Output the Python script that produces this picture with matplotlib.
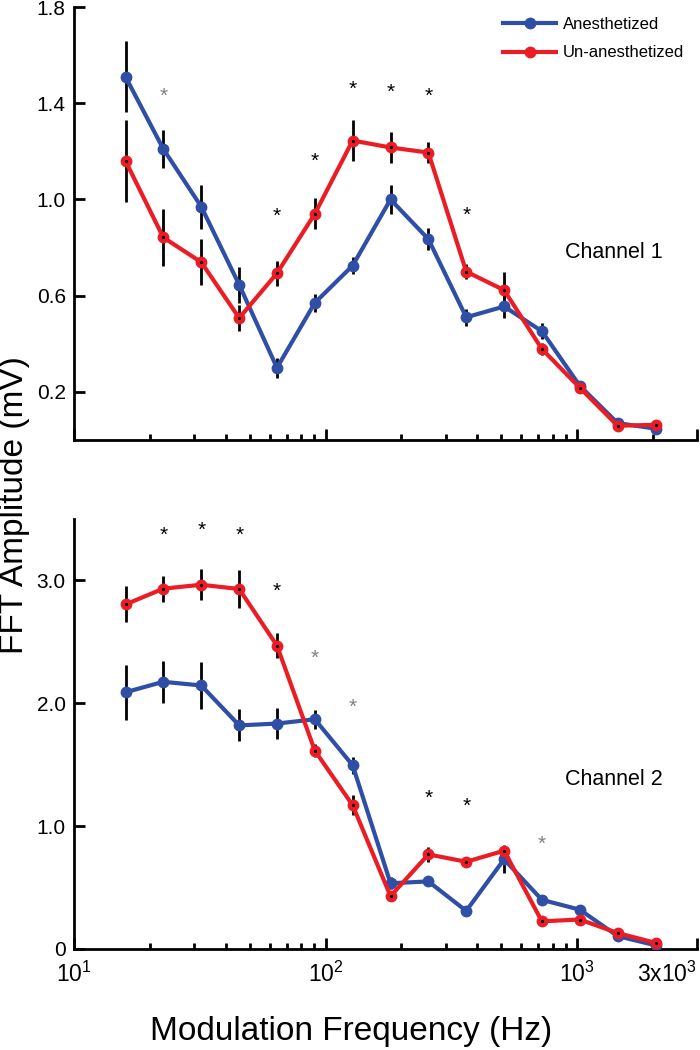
import matplotlib
matplotlib.use('Agg')
import matplotlib.pyplot as plt
import numpy as np

plt.rcParams['font.family'] = ['Liberation Sans', 'DejaVu Sans']
plt.rcParams['mathtext.fontset'] = 'custom'
plt.rcParams['mathtext.rm'] = 'Liberation Sans'
plt.rcParams['mathtext.it'] = 'Liberation Sans:italic'

# modulation frequencies (Hz)
freqs = [16, 22.6, 32, 45.3, 64, 90.5, 128, 181, 256, 362, 512, 724, 1024, 1448, 2048]

# channel 1
ch1_anes = [1.51, 1.21, 0.97, 0.645, 0.30, 0.57, 0.725, 1.00, 0.835, 0.51, 0.555, 0.452, 0.225, 0.07, 0.047]
ch1_anes_err = [0.147, 0.079, 0.092, 0.075, 0.041, 0.037, 0.035, 0.06, 0.045, 0.035, 0.05, 0.033, 0.02, 0.01, 0.01]
ch1_unan = [1.16, 0.842, 0.739, 0.507, 0.693, 0.94, 1.245, 1.216, 1.195, 0.70, 0.623, 0.378, 0.217, 0.059, 0.063]
ch1_unan_err = [0.17, 0.118, 0.095, 0.054, 0.052, 0.064, 0.085, 0.066, 0.045, 0.03, 0.076, 0.025, 0.015, 0.01, 0.01]
ch1_star_f = [22.6, 64, 90.5, 128, 181, 256, 362]
ch1_star_y = [1.43, 0.93, 1.157, 1.456, 1.447, 1.427, 0.934]
ch1_star_c = ['gray', 'k', 'k', 'k', 'k', 'k', 'k']

# channel 2
ch2_anes = [2.09, 2.175, 2.145, 1.82, 1.835, 1.87, 1.495, 0.535, 0.55, 0.31, 0.73, 0.40, 0.32, 0.105, 0.03]
ch2_anes_err = [0.223, 0.17, 0.19, 0.13, 0.125, 0.077, 0.07, 0.05, 0.04, 0.03, 0.11, 0.04, 0.03, 0.02, 0.01]
ch2_unan = [2.805, 2.933, 2.965, 2.93, 2.47, 1.615, 1.17, 0.43, 0.77, 0.71, 0.80, 0.225, 0.24, 0.13, 0.05]
ch2_unan_err = [0.146, 0.105, 0.127, 0.155, 0.10, 0.05, 0.08, 0.04, 0.06, 0.03, 0.05, 0.04, 0.03, 0.02, 0.01]
ch2_star_f = [22.6, 32, 45.3, 64, 90.5, 128, 256, 362, 724]
ch2_star_y = [3.37, 3.41, 3.37, 2.91, 2.37, 1.97, 1.23, 1.16, 0.85]
ch2_star_c = ['k', 'k', 'k', 'k', 'gray', 'gray', 'k', 'k', 'gray']

blue = '#2f4ea6'
red = '#ec1c24'

fig = plt.figure(figsize=(7, 10.5), dpi=100)
ax1 = fig.add_axes([0.106, 0.581, 0.89, 0.4123])
ax2 = fig.add_axes([0.106, 0.0962, 0.89, 0.4095])


def draw(ax, a, ae, u, ue, sf, sy, sc, ylim, yticks, ylabels, label, ly):
    ax.errorbar(freqs, a, yerr=ae, fmt='none', ecolor='k', elinewidth=2, capsize=0, zorder=3)
    ax.errorbar(freqs, u, yerr=ue, fmt='none', ecolor='k', elinewidth=2, capsize=0, zorder=3)
    ax.plot(freqs, a, '-o', color=blue, lw=3, ms=7.5, zorder=4, label='Anesthetized')
    ax.plot(freqs, u, '-o', color=red, lw=3, ms=7.5, zorder=5, label='Un-anesthetized')
    ax.plot(freqs, u, 'o', color='k', ms=1.3, zorder=6)
    for f, y, c in zip(sf, sy, sc):
        ax.text(f, y, '*', color=c, fontsize=15, ha='center', va='center')
    ax.set_xscale('log')
    ax.set_xlim(10, 3000)
    ax.set_ylim(*ylim)
    ax.set_yticks(yticks)
    ax.set_yticklabels(ylabels)
    ax.set_xticks([10, 100, 1000, 3000])
    ax.set_xticks([20, 30, 40, 50, 60, 70, 80, 90, 200, 300, 400, 500, 600, 700, 800, 900, 2000], minor=True)
    ax.xaxis.set_minor_formatter(matplotlib.ticker.NullFormatter())
    for s in ['top', 'right']:
        ax.spines[s].set_visible(False)
    for s in ['left', 'bottom']:
        ax.spines[s].set_linewidth(2)
    ax.tick_params(which='major', direction='in', length=8, width=2, labelsize=15, pad=6)
    ax.tick_params(which='minor', direction='in', length=4, width=2)
    ax.tick_params(axis='y', which='minor', length=0)
    ax.text(0.788, ly, label, transform=ax.transAxes, fontsize=15.5, va='center')


draw(ax1, ch1_anes, ch1_anes_err, ch1_unan, ch1_unan_err, ch1_star_f, ch1_star_y, ch1_star_c,
     (0, 1.8), [0.2, 0.6, 1.0, 1.4, 1.8], ['0.2', '0.6', '1.0', '1.4', '1.8'], 'Channel 1', 0.434)
ax1.set_xticklabels([])

draw(ax2, ch2_anes, ch2_anes_err, ch2_unan, ch2_unan_err, ch2_star_f, ch2_star_y, ch2_star_c,
     (0, 3.5), [0, 1.0, 2.0, 3.0], ['0', '1.0', '2.0', '3.0'], 'Channel 2', 0.394)
ax2.set_xticklabels([r'$10^1$', r'$10^2$', r'$10^3$', r'3x$10^3$'])
ax2.tick_params(axis='x', pad=9, labelsize=16.5)
ax2.get_xticklabels()[-1].set_horizontalalignment('right')

ax1.legend(loc='upper left', bbox_to_anchor=(503 / 700, 1 - 17 / 1050), bbox_transform=fig.transFigure,
           frameon=False, fontsize=12, handlelength=3.2, handletextpad=0.4, labelspacing=0.8,
           borderpad=0, borderaxespad=0, numpoints=1)

fig.text(0.021, 0.519, 'FFT Amplitude (mV)', rotation=90, fontsize=24, ha='center', va='center')
fig.text(0.501, 0.018, 'Modulation Frequency (Hz)', fontsize=24, ha='center', va='center')

fig.savefig('out.png', dpi=100)
